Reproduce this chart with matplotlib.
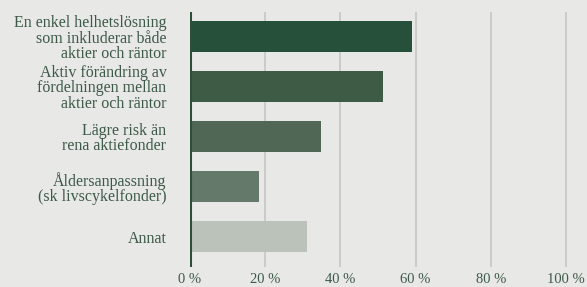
import matplotlib.pyplot as plt
import numpy as np

categories = [
    "En enkel helhetslösning\nsom inkluderar både\naktier och räntor",
    "Aktiv förändring av\nfördelningen mellan\naktier och räntor",
    "Lägre risk än\nrena aktiefonder",
    "Åldersanpassning\n(sk livscykelfonder)",
    "Annat",
]
values = [59, 51.3, 34.8, 18.3, 31]
bar_colors = ["#26503a", "#3e5b45", "#506756", "#64796a", "#bbc2b9"]
xticks = [0, 20, 40, 60, 80, 100]
xtick_labels = ["0 %", "20 %", "40 %", "60 %", "80 %", "100 %"]

bg = "#e8e8e6"
text_color = "#3d5a48"
plt.rcParams["font.family"] = ["Liberation Serif", "DejaVu Serif"]

fig = plt.figure(figsize=(5.87, 2.87), dpi=100, facecolor=bg)
ax = fig.add_axes([190 / 587, 20 / 287, 377 / 587, 255 / 287])
ax.set_facecolor(bg)

y = np.arange(len(categories))
ax.barh(y, values, height=0.62, color=bar_colors, zorder=2)
ax.set_ylim(len(categories) - 0.39, -0.5)
ax.set_xlim(0, 100.3)

ax.set_xticks(xticks)
ax.set_xticklabels(xtick_labels, fontsize=10.5, color=text_color)
ax.grid(axis="x", color="#c3c7c2", lw=1.2, zorder=0)
ax.axvline(0, color="#2a5038", lw=2.2, zorder=3)

ax.set_yticks(y)
ax.set_yticklabels(categories, fontsize=11.5, color=text_color, linespacing=0.93)
ax.tick_params(axis="both", length=0)
ax.tick_params(axis="x", pad=4)
ax.tick_params(axis="y", pad=17)
for s in ax.spines.values():
    s.set_visible(False)

fig.savefig("out.png", dpi=100, facecolor=bg)
